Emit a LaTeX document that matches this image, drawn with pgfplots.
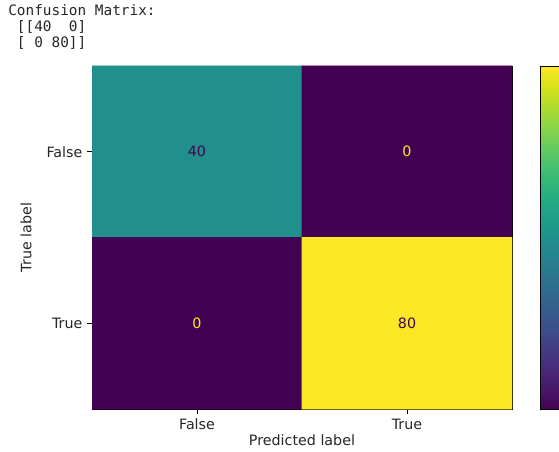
\documentclass[border=0pt]{standalone}
\usepackage{pgfplots}
\pgfplotsset{compat=1.18}
\usepackage{fontspec}
\setmainfont{DejaVu Sans}
\newfontfamily\monofont{DejaVu Sans Mono}

\definecolor{vmin}{HTML}{440154}
\definecolor{vmax}{HTML}{FDE725}
\definecolor{inkgray}{HTML}{262626}

\begin{document}
\begin{tikzpicture}[x=0.75pt, y=0.75pt]
% printed matrix above the plot
\node[anchor=base west, inner sep=0pt, text=inkgray, font=\monofont\fontsize{10.8pt}{12pt}\selectfont] at (8,436) {Confusion Matrix:};
\node[anchor=base west, inner sep=0pt, text=inkgray, font=\monofont\fontsize{10.8pt}{12pt}\selectfont] at (8,420) {\ [[40\ \ 0]};
\node[anchor=base west, inner sep=0pt, text=inkgray, font=\monofont\fontsize{10.8pt}{12pt}\selectfont] at (8,404) {\ [\ 0 80]]};

\begin{axis}[
  at={(69pt,32.25pt)}, anchor=south west,
  scale only axis,
  width=315pt, height=257.25pt,
  xmin=-0.5, xmax=1.5, ymin=-0.5, ymax=1.5,
  enlargelimits=false,
  y dir=reverse,
  axis line style={line width=0.6pt, black},
  tick align=outside,
  major tick length=3.7pt,
  tick style={line width=0.6pt, black},
  xtick={0,1}, xticklabels={False,True},
  ytick={0,1}, yticklabels={False,True},
  xtick pos=bottom, ytick pos=left,
  font=\fontsize{10.7pt}{12pt}\selectfont,
  ticklabel style={font=\fontsize{10.7pt}{12pt}\selectfont, text=inkgray},
  xlabel={Predicted label}, ylabel={True label},
  xlabel style={at={(axis description cs:0.5,-0.105)}, anchor=base, text=inkgray},
  ylabel style={at={(axis description cs:-0.157,0.5)}, anchor=center, text=inkgray},
  colormap/viridis,
  point meta min=0, point meta max=80,
  colorbar sampled,
  colorbar right,
  colorbar shift/.style={xshift=21pt},
  colorbar style={
    samples=121,
    at={(parent axis.north east)}, anchor=north west,
    width=18pt, scale only axis,
    axis line style={line width=0.6pt, black},
    ytick=\empty, yticklabels={},
  },
]
% confusion matrix cells, row by row
\addplot[matrix plot*, mesh/cols=2, point meta=explicit] coordinates {
  (0,0) [40] (1,0) [0]
  (0,1) [0]  (1,1) [80]
};
% cell counts, coloured against their background
\addplot[only marks, mark=none, point meta=explicit symbolic,
  nodes near coords, nodes near coords align=center,
  every node near coord/.append style={anchor=center, text=vmin, font=\fontsize{10.7pt}{12pt}\selectfont}]
  coordinates {(0,0) [40] (1,1) [80]};
\addplot[only marks, mark=none, point meta=explicit symbolic,
  nodes near coords, nodes near coords align=center,
  every node near coord/.append style={anchor=center, text=vmax, font=\fontsize{10.7pt}{12pt}\selectfont}]
  coordinates {(1,0) [0] (0,1) [0]};
\end{axis}
\pgfresetboundingbox
\useasboundingbox (0,0) rectangle (559,452);
\end{tikzpicture}
\end{document}
